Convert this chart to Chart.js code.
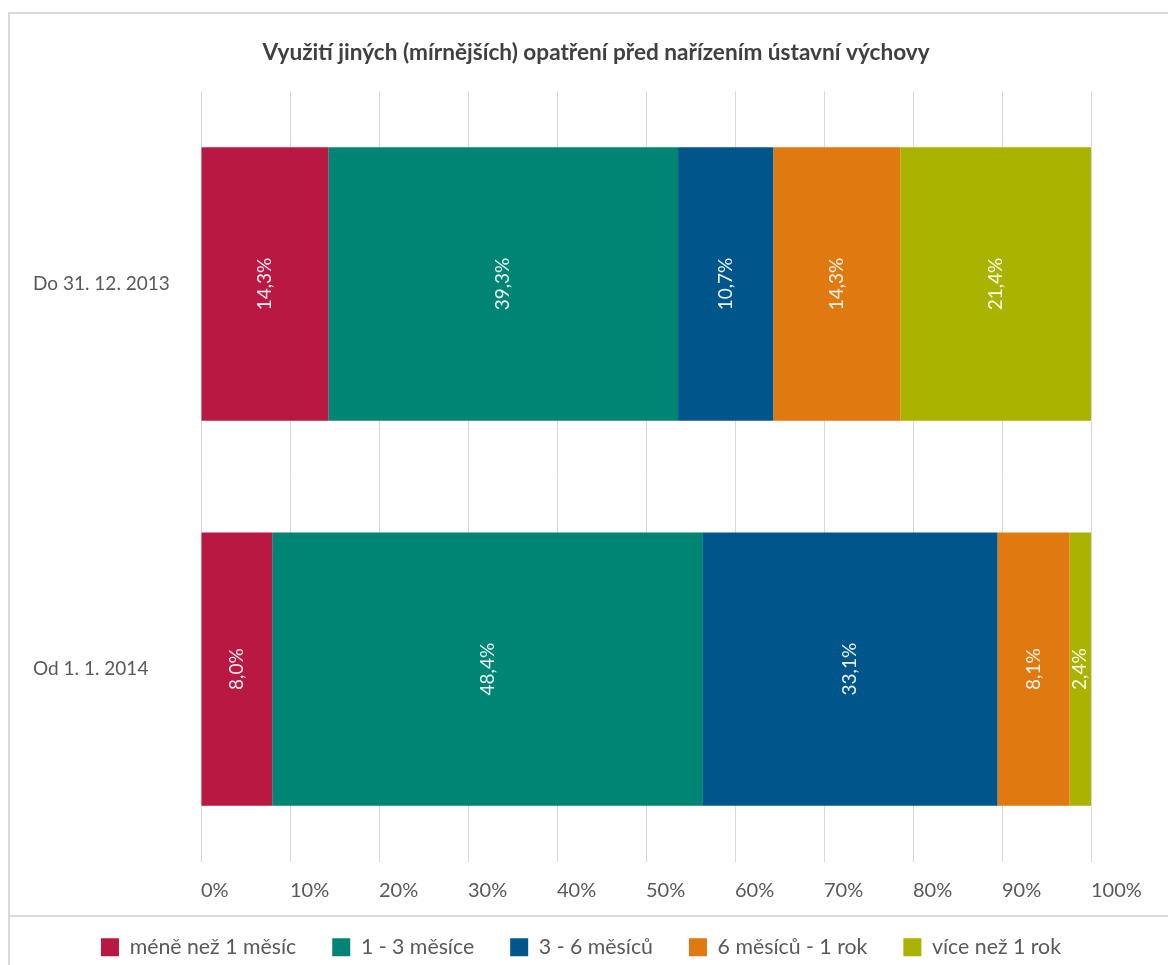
<!DOCTYPE html>
<html>
<head>
<meta charset="utf-8">
<script src="https://cdn.jsdelivr.net/npm/chart.js@4/dist/chart.umd.min.js"></script>
<style>
  html, body { margin: 0; padding: 0; background: #ffffff; }
  #wrap { position: absolute; left: 0; top: 0; width: 1168px; height: 965px; }
</style>
</head>
<body>
<div id="wrap"><canvas id="c" width="1168" height="965"></canvas></div>
<script>
const chartTitle = 'Využití jiných (mírnějších) opatření před nařízením ústavní výchovy';
const categories = ['Do 31. 12. 2013', 'Od 1. 1. 2014'];
const seriesNames = ['méně než 1 měsíc', '1 - 3 měsíce', '3 - 6 měsíců', '6 měsíců - 1 rok', 'více než 1 rok'];
const lessThan1Month = [14.3, 8.0];
const months1to3 = [39.3, 48.4];
const months3to6 = [10.7, 33.1];
const months6to1Year = [14.3, 8.1];
const moreThan1Year = [21.4, 2.4];
const tickLabels = ['0%', '10%', '20%', '30%', '40%', '50%', '60%', '70%', '80%', '90%', '100%'];
const seriesColors = ['#B81842', '#008474', '#00558B', '#E07A10', '#AAB300'];

const seriesValues = [lessThan1Month, months1to3, months3to6, months6to1Year, moreThan1Year];
const FONT = 'Lato';

const frame = {
  id: 'frame',
  beforeDraw(chart) {
    const ctx = chart.ctx;
    ctx.save();
    ctx.fillStyle = '#ffffff';
    ctx.fillRect(0, 0, chart.width, chart.height);
    ctx.fillStyle = '#d9d9d9';
    ctx.fillRect(8, 12, chart.width - 8, 2);
    ctx.fillRect(8, 12, 2, chart.height - 12);
    ctx.fillRect(8, 915, chart.width - 8, 2);
    ctx.restore();
  }
};

const shiftBoxes = {
  id: 'shiftBoxes',
  afterLayout(chart) {
    const t = chart.titleBlock;
    if (t) { t.left += 34; t.right += 34; }
    const l = chart.legend;
    if (l) { l.left += 19; l.right += 19; l.top += 3; l.bottom += 3; }
  }
};

const valueLabels = {
  id: 'valueLabels',
  afterDatasetsDraw(chart) {
    const ctx = chart.ctx;
    ctx.save();
    ctx.font = '19px ' + FONT;
    ctx.fillStyle = 'rgba(255,255,255,0.92)';
    ctx.textAlign = 'center';
    ctx.textBaseline = 'middle';
    chart.data.datasets.forEach((ds, i) => {
      const meta = chart.getDatasetMeta(i);
      meta.data.forEach((el, j) => {
        const v = ds.data[j];
        const cx = (el.x + el.base) / 2;
        ctx.save();
        ctx.translate(cx, el.y);
        ctx.rotate(-Math.PI / 2);
        ctx.fillText(v.toFixed(1).replace('.', ',') + '%', 0, 0);
        ctx.restore();
      });
    });
    ctx.restore();
  }
};

const datasets = seriesNames.map((name, i) => ({
  label: name,
  data: seriesValues[i],
  backgroundColor: seriesColors[i],
  borderWidth: 0,
  barPercentage: 0.71,
  categoryPercentage: 1.0
}));

new Chart(document.getElementById('c'), {
  type: 'bar',
  data: { labels: categories, datasets },
  options: {
    indexAxis: 'y',
    responsive: false,
    animation: false,
    devicePixelRatio: 1,
    layout: { padding: { top: 12, left: 33, right: 77, bottom: 0 } },
    scales: {
      x: {
        stacked: true,
        min: 0,
        max: 100,
        grid: { color: '#d9d9d9', lineWidth: 1, drawTicks: false },
        border: { display: false },
        ticks: {
          stepSize: 10,
          align: 'start',
          padding: 16.5,
          color: '#595959',
          font: { family: FONT, size: 20 },
          callback: (v, i) => tickLabels[i]
        },
        afterFit(scale) {
          scale.height = 36;
          scale.paddingLeft = 0;
          scale.paddingRight = 0;
        }
      },
      y: {
        stacked: true,
        grid: { display: false },
        border: { display: false },
        ticks: {
          crossAlign: 'far',
          color: '#595959',
          font: { family: FONT, size: 19 }
        },
        afterFit(scale) {
          scale.width = 168;
        }
      }
    },
    plugins: {
      title: {
        display: true,
        text: chartTitle,
        color: '#404040',
        font: { family: FONT, size: 22.6, weight: 'bold' },
        padding: { top: 27.4, bottom: 24.9 }
      },
      legend: {
        position: 'bottom',
        labels: {
          boxWidth: 18,
          boxHeight: 18,
          padding: 36,
          color: '#595959',
          font: { family: FONT, size: 21.3 }
        }
      },
      tooltip: { enabled: false }
    }
  },
  plugins: [frame, shiftBoxes, valueLabels]
});
</script>
</body>
</html>
